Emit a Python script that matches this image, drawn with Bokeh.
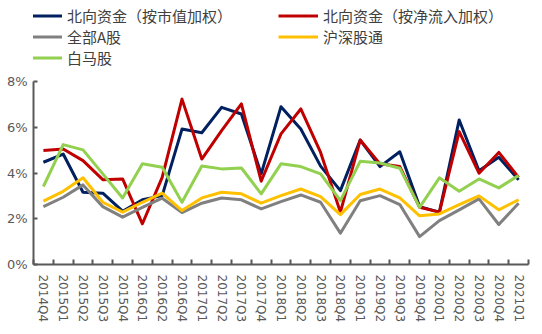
from bokeh.plotting import figure
from bokeh.layouts import column
from bokeh.models import (ColumnDataSource, FixedTicker, NumeralTickFormatter,
                          Range1d, Legend, LegendItem)
from bokeh.embed import file_html
from bokeh.resources import INLINE

quarters = ["2014Q4", "2015Q1", "2015Q2", "2015Q3", "2015Q4", "2016Q1", "2016Q2",
            "2016Q4", "2017Q1", "2017Q2", "2017Q3", "2017Q4", "2018Q1", "2018Q2",
            "2018Q3", "2018Q4", "2019Q1", "2019Q2", "2019Q3", "2019Q4", "2020Q1",
            "2020Q2", "2020Q3", "2020Q4", "2021Q1"]

north_mcap = [4.47, 4.83, 3.16, 3.12, 2.33, 2.83, 3.01, 5.92, 5.76, 6.87, 6.58, 3.96,
              6.90, 5.92, 4.30, 3.23, 5.44, 4.28, 4.93, 2.53, 2.29, 6.32, 4.10, 4.69, 3.70]
north_flow = [4.98, 5.05, 4.54, 3.71, 3.74, 1.78, 3.81, 7.23, 4.61, 5.85, 7.02, 3.64,
              5.71, 6.80, 4.90, 2.29, 5.44, 4.40, 4.28, 2.50, 2.29, 5.81, 3.99, 4.90, 3.81]
all_a = [2.53, 2.94, 3.48, 2.53, 2.07, 2.50, 2.90, 2.27, 2.68, 2.91, 2.83, 2.43,
         2.75, 3.04, 2.72, 1.37, 2.79, 3.01, 2.62, 1.22, 1.92, 2.39, 2.87, 1.75, 2.68]
hs_connect = [2.77, 3.20, 3.79, 2.72, 2.29, 2.72, 3.12, 2.36, 2.91, 3.16, 3.09, 2.68,
              3.01, 3.30, 2.97, 2.18, 3.06, 3.30, 2.91, 2.13, 2.21, 2.62, 3.00, 2.39, 2.83]
blue_chip = [3.41, 5.24, 5.01, 3.96, 2.91, 4.40, 4.25, 2.72, 4.31, 4.18, 4.22, 3.09,
             4.40, 4.28, 3.96, 2.79, 4.51, 4.44, 4.21, 2.50, 3.79, 3.20, 3.74, 3.35, 3.89]

names = ["北向资金（按市值加权）", "北向资金（按净流入加权）", "全部A股", "沪深股通", "白马股"]
series = [north_mcap, north_flow, all_a, hs_connect, blue_chip]
colors = ["#002060", "#C00000", "#808080", "#FFC000", "#92D050"]

x = list(range(len(quarters)))
data = {"x": x}
for i, s in enumerate(series):
    data[f"s{i}"] = [v / 100 for v in s]
src = ColumnDataSource(data)

# ---- main chart ----
p = figure(width=542, height=264, output_backend="svg", toolbar_location=None,
           x_range=Range1d(-0.5, len(quarters) - 0.5), y_range=Range1d(0, 0.08),
           min_border_left=33, min_border_right=14, min_border_top=11,
           min_border_bottom=70)
p.outline_line_color = None
p.xgrid.visible = False
p.ygrid.visible = False
p.background_fill_color = "white"
p.border_fill_color = "white"

for i in range(len(series)):
    p.line("x", f"s{i}", source=src, line_color=colors[i], line_width=3,
           line_join="round")

xa = p.xaxis[0]
xa.ticker = FixedTicker(ticks=x, minor_ticks=[i - 0.5 for i in range(len(quarters) + 1)])
xa.major_label_overrides = {i: q for i, q in enumerate(quarters)}
xa.major_label_orientation = "vertical"
xa.major_tick_in = 0
xa.major_tick_out = 0
xa.minor_tick_in = 5
xa.minor_tick_out = 0
xa.minor_tick_line_color = "#595959"
xa.minor_tick_line_width = 2
xa.axis_line_color = "#595959"
xa.axis_line_width = 2
xa.major_label_text_font = "DejaVu Sans"
xa.major_label_text_font_size = "12px"
xa.major_label_text_color = "#595959"
xa.major_label_standoff = 10

ya = p.yaxis[0]
ya.ticker = FixedTicker(ticks=[0, 0.02, 0.04, 0.06, 0.08])
ya.formatter = NumeralTickFormatter(format="0%")
ya.major_tick_in = 4
ya.major_tick_out = 0
ya.minor_tick_in = 0
ya.minor_tick_out = 0
ya.major_tick_line_color = "#595959"
ya.major_tick_line_width = 2
ya.axis_line_color = "#595959"
ya.axis_line_width = 2
ya.major_label_text_font = "DejaVu Sans"
ya.major_label_text_font_size = "13px"
ya.major_label_text_color = "#595959"
ya.major_label_standoff = 6

# ---- legend strip (its lines use the same data but lie outside its view) ----
lg = figure(width=542, height=70, output_backend="svg", toolbar_location=None,
            x_range=Range1d(-0.5, len(quarters) - 0.5), y_range=Range1d(10, 11),
            x_axis_location=None, y_axis_location=None,
            min_border=0, min_border_left=0, min_border_right=0,
            min_border_top=0, min_border_bottom=0)
lg.grid.visible = False
lg.outline_line_color = None
lg.background_fill_color = "white"
lg.border_fill_color = "white"

items = []
for i in range(len(series)):
    r = lg.line("x", f"s{i}", source=src, line_color=colors[i], line_width=3)
    items.append(LegendItem(label=names[i], renderers=[r]))

legend = Legend(items=items, orientation="horizontal", ncols=2,
                location=(-11, 2), glyph_width=40, glyph_height=19,
                label_height=19, label_width=211, label_standoff=5, spacing=0,
                padding=0, margin=0, border_line_color=None,
                background_fill_alpha=0,
                label_text_font="Noto Sans CJK SC", label_text_font_size="15px",
                label_text_color="#404040")
lg.add_layout(legend, "center")

layout = column(lg, p, spacing=0)
open("out.html", "w").write(file_html(layout, INLINE))
